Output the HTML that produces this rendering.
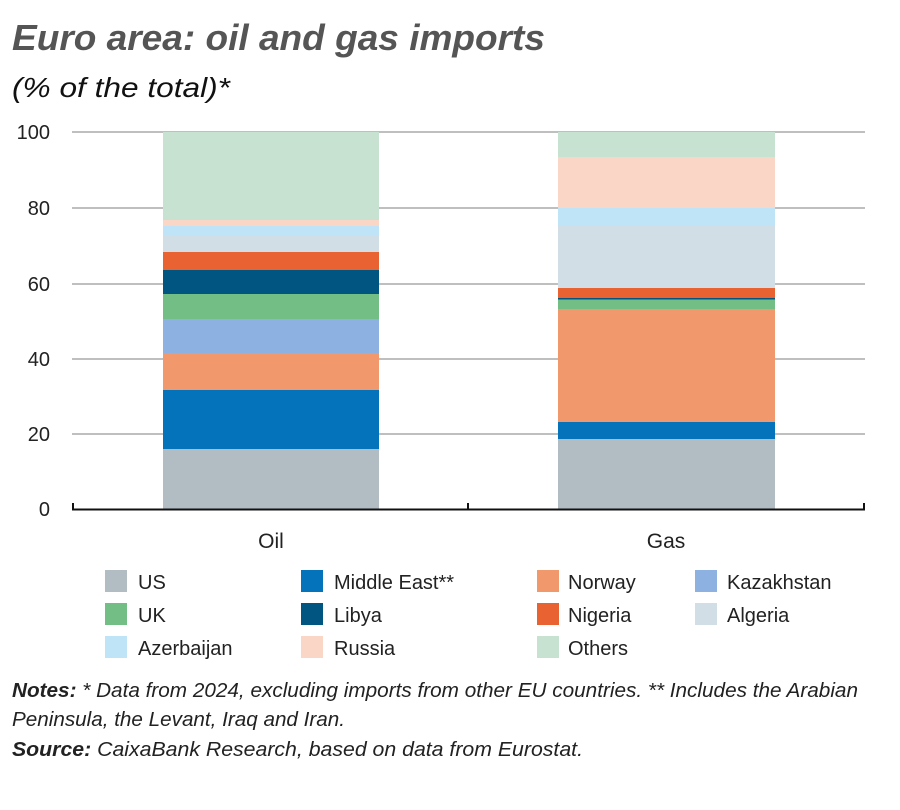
<!DOCTYPE html>
<html><head><meta charset="utf-8"><style>
body{margin:0;background:#fff;}
svg text{font-family:"Liberation Sans",sans-serif;}
</style></head><body>
<svg width="900" height="805" viewBox="0 0 900 805" xmlns="http://www.w3.org/2000/svg">
<text x="12" y="50" font-size="36" font-weight="bold" font-style="italic" fill="#555" textLength="533" lengthAdjust="spacingAndGlyphs">Euro area: oil and gas imports</text>
<text x="12" y="97" font-size="28" font-style="italic" fill="#111" textLength="218" lengthAdjust="spacingAndGlyphs">(% of the total)*</text>
<g stroke="#999" stroke-width="1.3">
<line x1="72" y1="132" x2="865" y2="132"/><line x1="72" y1="208" x2="865" y2="208"/>
<line x1="72" y1="284" x2="865" y2="284"/><line x1="72" y1="359" x2="865" y2="359"/>
<line x1="72" y1="434" x2="865" y2="434"/>
</g>
<g font-size="20" fill="#222" text-anchor="end">
<text x="50" y="139">100</text><text x="50" y="215">80</text><text x="50" y="291">60</text>
<text x="50" y="366">40</text><text x="50" y="441">20</text><text x="50" y="516">0</text>
</g>
<g>
<rect x="163" y="132" width="216" height="88" fill="#c7e2d0"/>
<rect x="163" y="220" width="216" height="6" fill="#f9d6c5"/>
<rect x="163" y="226" width="216" height="10" fill="#bfe3f7"/>
<rect x="163" y="236" width="216" height="16" fill="#d1dee6"/>
<rect x="163" y="252" width="216" height="18" fill="#e96232"/>
<rect x="163" y="270" width="216" height="24" fill="#005680"/>
<rect x="163" y="294" width="216" height="25" fill="#72be85"/>
<rect x="163" y="319" width="216" height="34" fill="#8db1e0"/>
<rect x="163" y="353" width="216" height="37" fill="#f2986d"/>
<rect x="163" y="390" width="216" height="59" fill="#0473bb"/>
<rect x="163" y="449" width="216" height="60" fill="#b1bdc2"/>
</g>
<g>
<rect x="558" y="132" width="217" height="25" fill="#c7e2d0"/>
<rect x="558" y="157" width="217" height="51" fill="#f9d6c5"/>
<rect x="558" y="208" width="217" height="18" fill="#bfe3f7"/>
<rect x="558" y="226" width="217" height="62" fill="#d1dee6"/>
<rect x="558" y="288" width="217" height="10" fill="#e96232"/>
<rect x="558" y="298" width="217" height="1.5" fill="#005680"/>
<rect x="558" y="299.5" width="217" height="9.5" fill="#72be85"/>
<rect x="558" y="309" width="217" height="113" fill="#f2986d"/>
<rect x="558" y="422" width="217" height="17" fill="#0473bb"/>
<rect x="558" y="439" width="217" height="70" fill="#b1bdc2"/>
</g>
<g stroke="#111" stroke-width="2">
<line x1="72" y1="509.5" x2="865" y2="509.5"/>
<line x1="73" y1="503" x2="73" y2="510"/><line x1="468" y1="503" x2="468" y2="510"/><line x1="864" y1="503" x2="864" y2="510"/>
</g>
<g font-size="21" fill="#222" text-anchor="middle">
<text x="271" y="548">Oil</text><text x="666" y="548">Gas</text>
</g>
<g font-size="20" fill="#222">
<rect x="105" y="570" width="22" height="22" fill="#b1bdc2"/><text x="138" y="589">US</text>
<rect x="301" y="570" width="22" height="22" fill="#0473bb"/><text x="334" y="589">Middle East**</text>
<rect x="537" y="570" width="22" height="22" fill="#f2986d"/><text x="568" y="589">Norway</text>
<rect x="695" y="570" width="22" height="22" fill="#8db1e0"/><text x="727" y="589">Kazakhstan</text>
<rect x="105" y="603" width="22" height="22" fill="#72be85"/><text x="138" y="622">UK</text>
<rect x="301" y="603" width="22" height="22" fill="#005680"/><text x="334" y="622">Libya</text>
<rect x="537" y="603" width="22" height="22" fill="#e96232"/><text x="568" y="622">Nigeria</text>
<rect x="695" y="603" width="22" height="22" fill="#d1dee6"/><text x="727" y="622">Algeria</text>
<rect x="105" y="636" width="22" height="22" fill="#bfe3f7"/><text x="138" y="655">Azerbaijan</text>
<rect x="301" y="636" width="22" height="22" fill="#f9d6c5"/><text x="334" y="655">Russia</text>
<rect x="537" y="636" width="22" height="22" fill="#c7e2d0"/><text x="568" y="655">Others</text>
</g>
<g font-size="20" font-style="italic" fill="#222">
<text x="12" y="697" textLength="846" lengthAdjust="spacingAndGlyphs"><tspan font-weight="bold">Notes:</tspan> * Data from 2024, excluding imports from other EU countries. ** Includes the Arabian</text>
<text x="12" y="726" textLength="333" lengthAdjust="spacingAndGlyphs">Peninsula, the Levant, Iraq and Iran.</text>
<text x="12" y="756" textLength="571" lengthAdjust="spacingAndGlyphs"><tspan font-weight="bold">Source:</tspan> CaixaBank Research, based on data from Eurostat.</text>
</g>
</svg>
</body></html>
